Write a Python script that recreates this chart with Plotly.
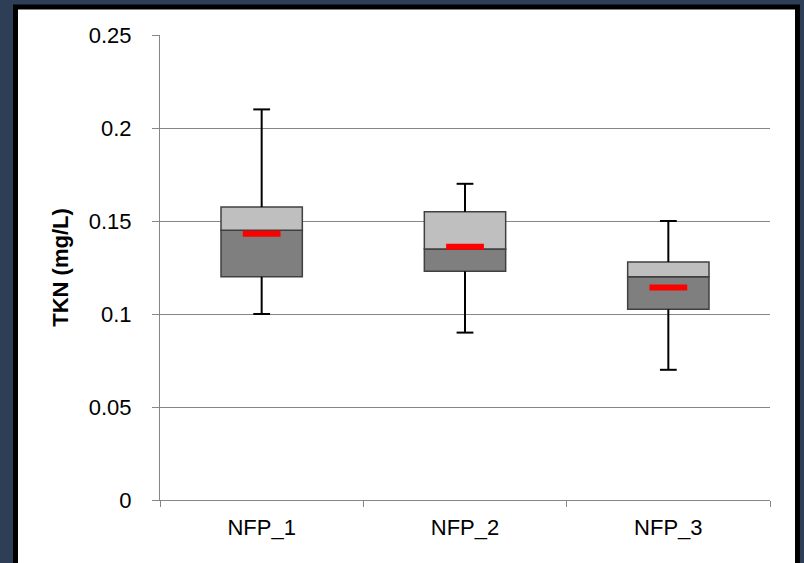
import plotly.graph_objects as go

categories = ["NFP_1", "NFP_2", "NFP_3"]
minimum = [0.100, 0.090, 0.070]
q1 = [0.120, 0.123, 0.1025]
median = [0.145, 0.135, 0.120]
q3 = [0.1575, 0.155, 0.128]
maximum = [0.210, 0.170, 0.150]
mean = [0.1432, 0.1362, 0.1142]
y_ticks = [0, 0.05, 0.1, 0.15, 0.2, 0.25]
y_tick_text = ["0", "0.05", "0.1", "0.15", "0.2", "0.25"]

W, H = 804, 563
L, R, T, B = 160, 34, 35, 63
pw, ph = W - L - R, H - T - B

def px_x(px):
    return (px - L) / pw

def px_y(py):
    return (H - B - py) / ph

fig = go.Figure()

# whisker lines (Q3 -> max, Q1 -> min)
wx, wy = [], []
for c, a, b, mn, mx in zip(categories, q1, q3, minimum, maximum):
    wx += [c, c, None, c, c, None]
    wy += [b, mx, None, a, mn, None]
fig.add_trace(go.Scatter(x=wx, y=wy, mode="lines",
                         line=dict(color="black", width=2),
                         showlegend=False, hoverinfo="skip"))
# whisker caps
fig.add_trace(go.Scatter(x=categories + categories, y=maximum + minimum, mode="markers",
                         marker=dict(symbol="line-ew", size=12,
                                     line=dict(color="black", width=2)),
                         showlegend=False, hoverinfo="skip"))

# lower box (Q1 -> median)
fig.add_trace(go.Bar(
    x=categories, y=[m - a for m, a in zip(median, q1)], base=q1,
    width=0.4, marker=dict(color="#7F7F7F", line=dict(color="#404040", width=1.5)),
    showlegend=False, hoverinfo="skip"))
# upper box (median -> Q3)
fig.add_trace(go.Bar(
    x=categories, y=[b - m for b, m in zip(q3, median)], base=median,
    width=0.4, marker=dict(color="#BFBFBF", line=dict(color="#404040", width=1.5)),
    showlegend=False, hoverinfo="skip"))
# mean markers
fig.add_trace(go.Scatter(
    x=categories, y=mean, mode="markers",
    marker=dict(symbol="line-ew", size=27, line=dict(color="#FF0000", width=6)),
    showlegend=False, hoverinfo="skip"))

fig.add_shape(type="rect", xref="paper", yref="paper",
              x0=px_x(15.5), x1=px_x(797.5), y0=px_y(580), y1=px_y(7),
              line=dict(color="black", width=5), fillcolor="white", layer="below")

font = dict(family="Liberation Sans, Arial, sans-serif", size=22, color="black")

fig.update_layout(
    width=W, height=H,
    margin=dict(l=L, r=R, t=T, b=B, pad=0),
    paper_bgcolor="#2E3E56", plot_bgcolor="white",
    barmode="overlay",
    font=font,
    xaxis=dict(type="category", tickson="boundaries", ticks="outside", ticklen=6,
               tickcolor="#868686", showline=True, linecolor="#868686", linewidth=1,
               showgrid=False, tickfont=font, ticklabelstandoff=8),
    yaxis=dict(range=[0, 0.25], tickvals=y_ticks, ticktext=y_tick_text,
               ticks="outside", ticklen=7, tickcolor="#868686",
               showline=True, linecolor="#868686", linewidth=1,
               showgrid=True, gridcolor="#868686", gridwidth=1, zeroline=False,
               tickfont=font, ticklabelstandoff=16,
               title=dict(text="<b>TKN (mg/L)</b>", font=font, standoff=14)),
)

fig.write_html("out.html", config={"displayModeBar": False},
               post_script="document.body.style.margin='0';document.body.style.overflow='hidden';")
